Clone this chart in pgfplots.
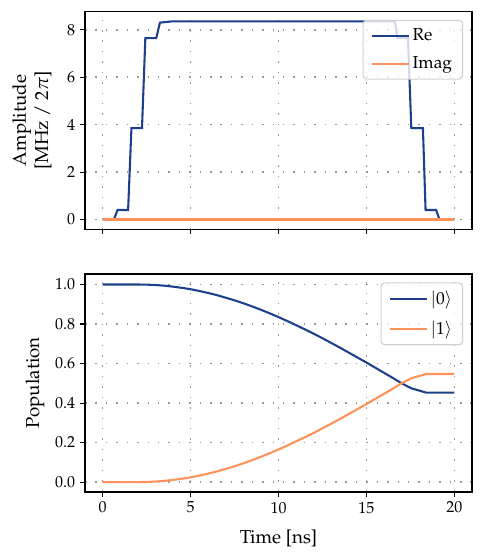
\documentclass[border=0pt]{standalone}
\usepackage[T1]{fontenc}
\usepackage{mathpazo}
\usepackage{pgfplots}
\pgfplotsset{compat=1.18}
\definecolor{cblue}{RGB}{30,64,140}
\definecolor{corange}{RGB}{255,145,90}
\pgfplotsset{
  mystyle/.style={
    scale only axis, width=278.64pt, height=156.96pt, anchor=south west,
    xmin=-1, xmax=21,
    xtick={0,5,10,15,20},
    tick align=outside, xtick pos=left, ytick pos=left,
    major tick length=3.6pt,
    tick style={black, line width=0.8pt},
    axis line style={black, line width=1.1pt},
    grid=major,
    grid style={black!40, line width=1.1pt, dash pattern=on 1.1pt off 6.4pt},
    tick label style={font=\fontsize{11.5}{13}\selectfont},
    label style={font=\fontsize{13.5}{16}\selectfont},
    legend style={at={(axis description cs:0.977,0.962)}, anchor=north east,
      draw=black!18, line width=0.8pt, rounded corners=2.5pt, fill=white, fill opacity=0.8, text opacity=1,
      font=\fontsize{12.5}{15}\selectfont, row sep=6pt, inner xsep=5.5pt, inner ysep=4pt},
    legend cell align=left,
    legend image code/.code={\draw[##1, line width=1.5pt] (0pt,0pt) -- (26.6pt,0pt);},
  }
}
\begin{document}
\begin{tikzpicture}
\useasboundingbox (0,0) rectangle (348.48pt,403.2pt);
\begin{axis}[mystyle,
  at={(61.2pt,237.96pt)},
  ymin=-0.42, ymax=8.77,
  ytick={0,2,4,6,8}, xticklabels={},
  ylabel={Amplitude\\{}[MHz / $2\pi$]},
  ylabel style={align=center, at={(axis description cs:-0.137,0.5)}, anchor=center},
]
\addplot[cblue, line width=1.5pt] coordinates {
(0,0) (0.64,0) (0.85,0.4) (1.45,0.4) (1.64,3.85) (2.24,3.85) (2.43,7.65) (3.05,7.65)
(3.26,8.30) (3.9,8.35) (16.61,8.35) (16.76,7.65) (17.36,7.65) (17.55,3.85) (18.21,3.85)
(18.36,0.4) (18.96,0.4) (19.15,0) (20,0)
};
\addlegendentry{Re}
\addplot[corange, line width=1.5pt] coordinates {(0,0) (20,0)};
\addlegendentry{Imag}
\end{axis}
\begin{axis}[mystyle,
  at={(61.2pt,48.96pt)},
  ymin=-0.05, ymax=1.053,
  ytick={0,0.2,0.4,0.6,0.8,1.0},
  yticklabel style={/pgf/number format/.cd, fixed, fixed zerofill, precision=1},
  xlabel={Time [ns]},
  ylabel={Population},
  xlabel style={at={(axis description cs:0.5,-0.212)}, anchor=center},
  ylabel style={at={(axis description cs:-0.129,0.5)}, anchor=center},
]
\addplot[cblue, line width=1.5pt] coordinates {
(0,1) (1,1) (2,0.9998) (2.5,0.9992) (3,0.9972) (3.5,0.9939) (4,0.989) (4.5,0.983) (5,0.976)
(5.5,0.967) (6,0.957) (6.5,0.946) (7,0.933) (7.5,0.920) (8,0.905) (8.5,0.889) (9,0.872)
(9.5,0.854) (10,0.835) (10.5,0.815) (11,0.794) (11.5,0.773) (12,0.751) (12.5,0.728)
(13,0.704) (13.5,0.680) (14,0.655) (14.5,0.630) (15,0.605) (15.5,0.579) (16,0.553)
(16.5,0.527) (17,0.500) (17.54,0.475) (18.39,0.453) (20,0.453)
};
\addlegendentry{$|0\rangle$}
\addplot[corange, line width=1.5pt] coordinates {
(0,0) (1,0) (2,0.0002) (2.5,0.0008) (3,0.0028) (3.5,0.0061) (4,0.011) (4.5,0.017) (5,0.024)
(5.5,0.033) (6,0.043) (6.5,0.054) (7,0.067) (7.5,0.080) (8,0.095) (8.5,0.111) (9,0.128)
(9.5,0.146) (10,0.165) (10.5,0.185) (11,0.206) (11.5,0.227) (12,0.249) (12.5,0.272)
(13,0.296) (13.5,0.320) (14,0.345) (14.5,0.370) (15,0.395) (15.5,0.421) (16,0.447)
(16.5,0.473) (17,0.500) (17.54,0.525) (18.39,0.547) (20,0.547)
};
\addlegendentry{$|1\rangle$}
\end{axis}
\end{tikzpicture}
\end{document}
